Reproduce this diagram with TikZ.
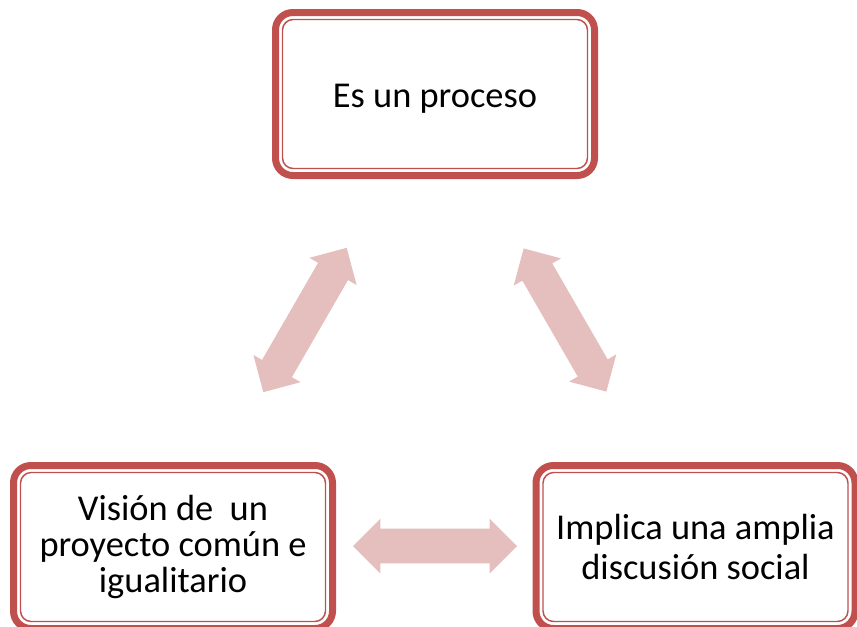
\documentclass[tikz,border=0pt]{standalone}
\usepackage{fontspec}
\setmainfont{Carlito}
\usetikzlibrary{shapes.arrows}
\definecolor{borde}{RGB}{192,80,77}
\definecolor{flecha}{RGB}{228,191,190}
\begin{document}
\begin{tikzpicture}[x=0.75pt, y=-0.75pt,
  caja/.style={draw=borde, line width=5.25pt, rounded corners=13pt, outer sep=0pt,
    minimum width=239.25pt, minimum height=122.25pt, align=center, fill=white},
  marco/.style={draw=borde, line width=1.1pt, rounded corners=8pt},
  doble/.style={double arrow, fill=flecha, inner xsep=0pt, inner ysep=12.75pt,
    double arrow head extend=7.5pt, double arrow tip angle=90}]
\clip (0,0) rectangle (857,626);

\node (P) at (435, 94) [caja, text height=25pt, font=\fontsize{27.3}{32}\selectfont] {Es un proceso};
\node (V) at (173, 547) [caja, font=\fontsize{27.3}{27}\selectfont] {Visión de \ un\\ proyecto común e\\ igualitario};
\node (I) at (695.5, 547) [caja, font=\fontsize{27.3}{30}\selectfont] {Implica una amplia\\ discusión social};

\draw[marco] ([shift={(5.25pt,-5.25pt)}]P.north west) rectangle ([shift={(-5.25pt,5.25pt)}]P.south east);
\draw[marco] ([shift={(5.25pt,-5.25pt)}]V.north west) rectangle ([shift={(-5.25pt,5.25pt)}]V.south east);
\draw[marco] ([shift={(5.25pt,-5.25pt)}]I.north west) rectangle ([shift={(-5.25pt,5.25pt)}]I.south east);

\node (PV) at (305, 320) [doble, minimum height=125pt, rotate=60] {};
\node (PI) at (565, 320) [doble, minimum height=124pt, rotate=-60] {};
\node (VI) at (435, 546) [doble, minimum height=123pt] {};
\end{tikzpicture}
\end{document}
